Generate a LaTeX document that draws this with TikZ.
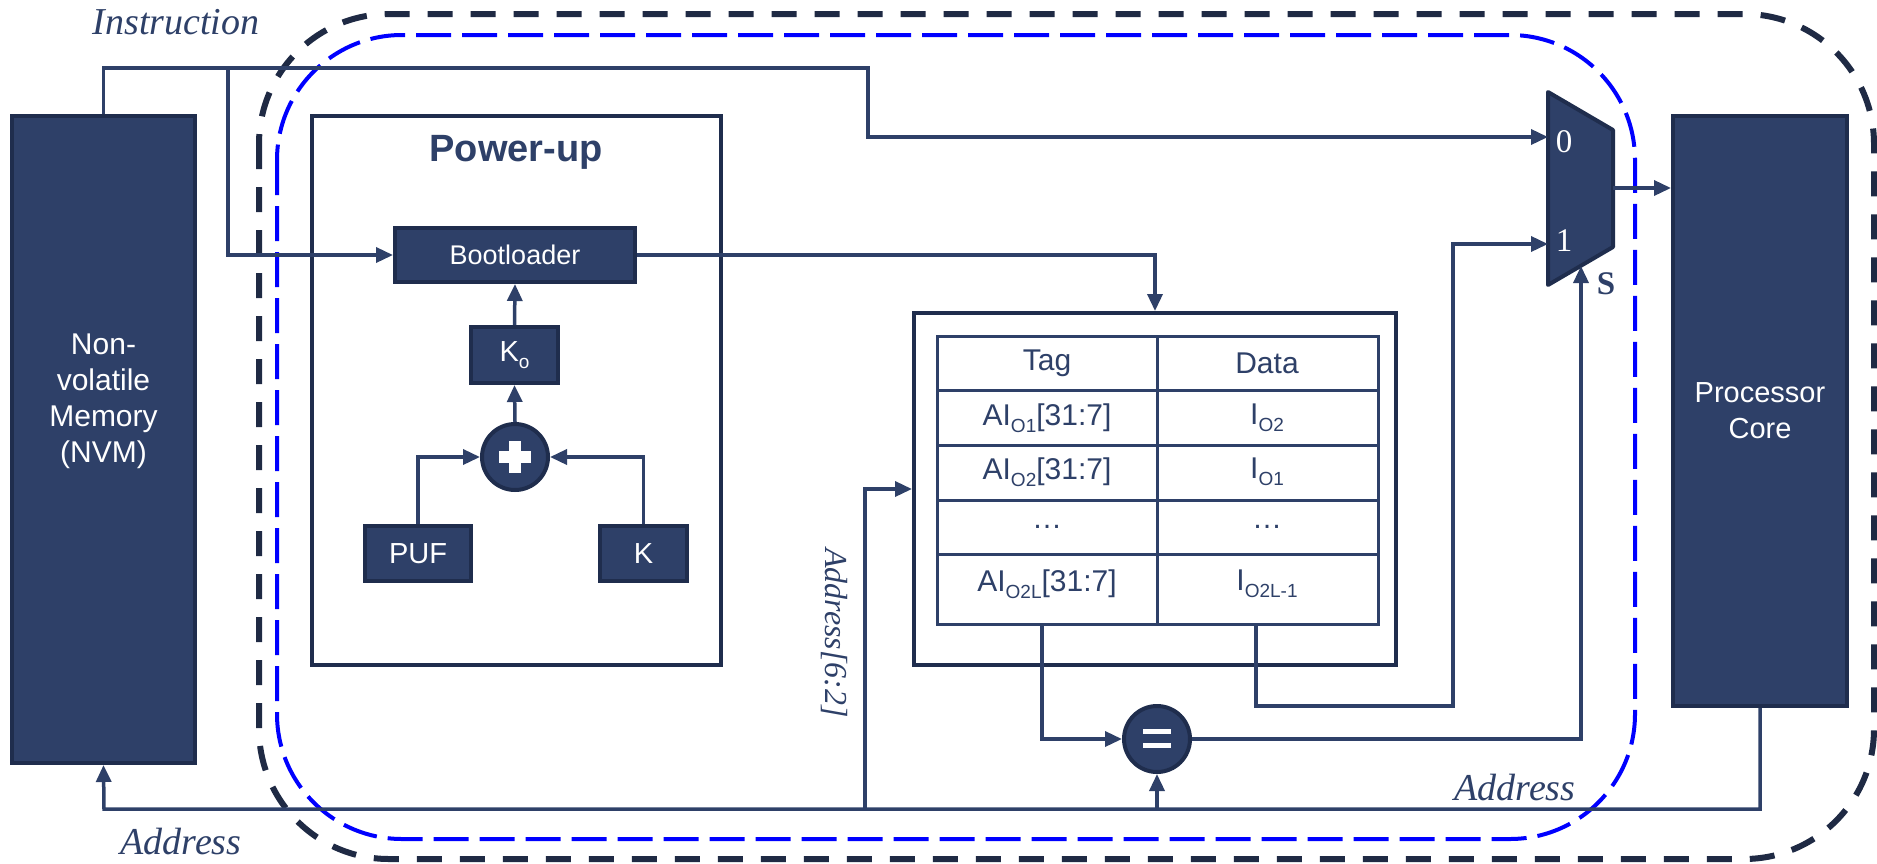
\documentclass[tikz,border=0pt]{standalone}
\usepackage{fontspec}
\setmainfont{Liberation Sans}
\newfontfamily\seriffont{Liberation Serif}
\usetikzlibrary{arrows.meta}
\definecolor{navy}{HTML}{2E4068}
\definecolor{navyd}{HTML}{1F2D4D}
\definecolor{dashd}{HTML}{1F2A44}
\definecolor{lblue}{HTML}{0000FF}
\newcommand{\sbs}[1]{\raisebox{-0.22em}{\fontsize{19}{20}\selectfont #1}}
\begin{document}
\begin{tikzpicture}[x=1pt,y=-1pt,
  blk/.style={draw=navyd, fill=navy, line width=4pt, text=white, inner sep=0pt, align=center},
  wbox/.style={draw=navyd, fill=white, line width=4pt, inner sep=0pt},
  wire/.style={draw=navy, line width=3.5pt},
  arr/.style={wire, -{Triangle[length=17pt,width=15pt]}},
  circ/.style={circle, draw=navyd, fill=navy, line width=4pt, minimum size=66pt, inner sep=0pt},
  lbl/.style={text=navy, font=\seriffont\itshape\fontsize{38}{42}\selectfont, inner sep=0pt},
  cell/.style={text=navy, font=\fontsize{30}{34}\selectfont, inner sep=0pt},
  muxnum/.style={text=white, font=\seriffont\fontsize{33}{36}\selectfont, inner sep=0pt},
  btxt/.style={font=\fontsize{30}{36}\selectfont}
]
\useasboundingbox (0,0) rectangle (1877,863);

% dashed regions
\draw[draw=dashd, line width=6pt, dash pattern=on 25pt off 18pt, rounded corners=130pt] (259,14) rectangle (1874,859);
\draw[draw=lblue, line width=4pt, dash pattern=on 35pt off 11pt, rounded corners=125pt] (277,35) rectangle (1635,839);

% boxes
\node[blk, btxt, minimum width=183pt, minimum height=647pt] (nvm) at (103.5,439.5) {};
\node[text=white, btxt, align=center] (nvmtxt) at (103.5,401) {Non-\\volatile\\Memory\\(NVM)};
\node[blk, btxt, font=\fontsize{29}{36}\selectfont, minimum width=174pt, minimum height=590pt] (proc) at (1760,411) {Processor\\Core};

\node[wbox, minimum width=409pt, minimum height=549pt] (pwr) at (516.5,390.5) {};
\node[text=navy, font=\bfseries\fontsize{38}{42}\selectfont] (pwrtxt) at (516,152) {Power-up};
\node[blk, font=\fontsize{27}{30}\selectfont, minimum width=240pt, minimum height=54pt] (boot) at (515,255) {Bootloader};
\node[blk, font=\fontsize{29}{30}\selectfont, minimum width=87pt, minimum height=56pt] (ko) at (514.5,355) {K\sbs{o}};
\node[circ] (plus) at (515,457) {};
\fill[white] (509,441) rectangle (521,473);
\fill[white] (499,451) rectangle (531,463);
\node[blk, font=\fontsize{29}{30}\selectfont, minimum width=106pt, minimum height=55pt] (puf) at (418,553.5) {PUF};
\node[blk, font=\fontsize{29}{30}\selectfont, minimum width=87pt, minimum height=55pt] (k) at (643.5,553.5) {K};

% cache
\node[wbox, minimum width=482pt, minimum height=352pt] (cache) at (1155,489) {};
\node[draw=navy, line width=3pt, minimum width=441pt, minimum height=288pt, inner sep=0pt] (tbl) at (1157.5,480) {};
\draw[navy, line width=3pt] (1157,336) -- (1157,624);
\foreach \yy in {390,445,500,554} \draw[navy, line width=3pt] (937,\yy) -- (1378,\yy);
\node[cell] (t0) at (1047,363) {Tag};
\node[cell] (d0) at (1267,363) {Data};
\node[cell] (t1) at (1047,418) {AI\sbs{O1}[31:7]};
\node[cell] (d1) at (1267,418) {I\sbs{O2}};
\node[cell] (t2) at (1047,472) {AI\sbs{O2}[31:7]};
\node[cell] (d2) at (1267,472) {I\sbs{O1}};
\node[cell] (t3) at (1047,527) {\dots};
\node[cell] (d3) at (1267,527) {\dots};
\node[cell] (t4) at (1047,584) {AI\sbs{O2L}[31:7]};
\node[cell] (d4) at (1267,584) {I\sbs{O2L-1}};

% comparator
\node[circ] (eq) at (1157,739) {};
\fill[white] (1143,729) rectangle (1171,734);
\fill[white] (1143,743) rectangle (1171,748);

% mux
\draw[draw=navyd, fill=navy, line width=4pt, line join=round] (1548,92) -- (1613,130) -- (1613,247) -- (1548,285) -- cycle;
\coordinate (m0) at (1548,137);
\coordinate (m1) at (1548,244);
\coordinate (ms) at (1581,266);
\coordinate (mout) at (1613,188);
\node[muxnum] (n0) at (1564,142) {0};
\node[muxnum] (n1) at (1564,241) {1};
\node[text=navy, font=\seriffont\bfseries\fontsize{33}{36}\selectfont, inner sep=0pt] (sl) at (1606,284) {S};

% connectors
\coordinate (ib) at (228,68);
\coordinate (ic) at (868,68);
\draw[arr] (nvm.north) |- (ic) |- (m0);
\draw[arr] (ib) |- (boot.west);
\draw[arr] (boot.east) -| (cache.north);
\draw[arr] (ko.north) -- (boot.south);
\draw[arr] (plus.north) -- (ko.south);
\draw[arr] (puf.north) |- (plus.west);
\draw[arr] (k.north) |- (plus.east);

\coordinate (tagout) at (1042,624);
\coordinate (dataout) at (1256,624);
\coordinate (dturn) at (1453,706);
\draw[arr] (tagout) |- (eq.west);
\draw[arr] (dataout) |- (dturn) |- (m1);
\draw[arr] (eq.east) -| (ms);
\draw[arr] (mout) -- (proc.west |- mout);

\coordinate (busr) at (1760,809);
\coordinate (busl) at (104,809);
\coordinate (a62) at (865,809);
\coordinate (eqin) at (1157,809);
\draw[arr] (proc.south) -- (busr) -- (busl) -- (nvm.south);
\draw[arr] (a62) |- (cache.west);
\draw[arr] (eqin) -- (eq.south);

% labels
\node[lbl] (linstr) at (176,22) {Instruction};
\node[lbl] (laddr1) at (181,841) {Address};
\node[lbl] (laddr2) at (1515,787) {Address};
\node[lbl, font=\seriffont\itshape\fontsize{32}{36}\selectfont, rotate=-90] (laddr3) at (834,633) {Address[6:2]};
\end{tikzpicture}
\end{document}
